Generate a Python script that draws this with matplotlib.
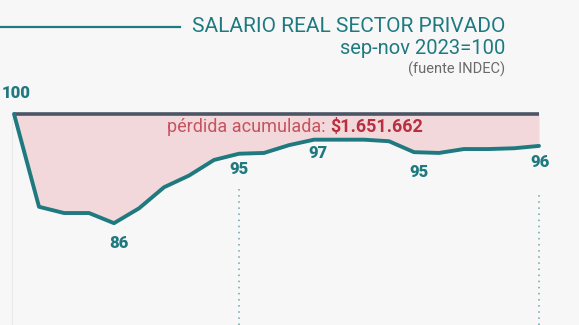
import matplotlib.pyplot as plt

# salario real sector privado, sep-nov 2023 = 100
months = list(range(22))
salario = [100, 88.1, 87.3, 87.3, 86.0, 87.9, 90.6, 92.1, 94.1, 94.9, 95.0,
           96.0, 96.7, 96.7, 96.7, 96.5, 95.1, 95.0, 95.5, 95.5, 95.6, 95.9]
label_idx = [0, 4, 9, 12, 16, 21]
label_txt = ["100", "86", "95", "97", "95", "96"]
label_off = [(0.1, 2.7), (0.2, -2.5), (0, -1.9), (0.15, -1.7), (0.2, -2.5), (0.05, -2.1)]
guide_idx = [9, 21]
guide_top = [90.6, 89.6]

BG = "#f7f7f7"
TEAL = "#1f7a80"
LINE_TOP = "#4b5566"
PINK = "#f2d8db"

fig = plt.figure(figsize=(5.79, 3.25), dpi=100, facecolor=BG)
ax = fig.add_axes([0, 0, 1, 1])
ax.set_facecolor(BG)
ax.set_xlim(-0.56, 22.6)
ax.set_ylim(72.95, 114.6)
ax.axis("off")

# faint left edge
ax.plot([-0.08, -0.08], [72.95, 99.3], color="#e9e9e9", lw=0.8, zorder=0)

ax.fill_between(months, salario, 100, color=PINK, lw=0, zorder=1)
ax.plot([months[0], months[-1]], [100, 100], color=LINE_TOP, lw=2.6,
        solid_capstyle="butt", zorder=2)
ax.plot(months, salario, color=TEAL, lw=2.8, solid_joinstyle="round",
        solid_capstyle="round", zorder=3)

for gi, gt in zip(guide_idx, guide_top):
    ax.plot([gi, gi], [72.95, gt], color="#6aa6ab", lw=1.1,
            linestyle=(0, (1, 3)), zorder=1)

for i, t, (dx, dy) in zip(label_idx, label_txt, label_off):
    ax.text(i + dx, salario[i] + dy, t, ha="center", va="center",
            fontsize=12, fontweight="heavy", color=TEAL,
            family="Roboto", zorder=4)

# accumulated loss annotation
ax.text(12.65, 98.3, "pérdida acumulada: ", ha="right", va="center",
        fontsize=13, color="#c4545f", family="Roboto")
ax.text(12.65, 98.3, "$1.651.662", ha="left", va="center",
        fontsize=13, fontweight="bold", color="#b8303f", family="Roboto")

# header
fig.add_artist(plt.Line2D([0, 180 / 579], [1 - 27 / 325] * 2,
                          color=TEAL, lw=1.6))
fig.text(505 / 579, 1 - 27 / 325, "SALARIO REAL SECTOR PRIVADO",
         ha="right", va="center", fontsize=15, color=TEAL, family="Roboto")
fig.text(505 / 579, 1 - 48 / 325, "sep-nov 2023=100",
         ha="right", va="center", fontsize=14.5, color=TEAL, family="Roboto")
fig.text(505 / 579, 1 - 69 / 325, "(fuente INDEC)",
         ha="right", va="center", fontsize=10.5, color="#6a6a6a", family="Roboto")

fig.savefig("out.png", dpi=100, facecolor=BG)
